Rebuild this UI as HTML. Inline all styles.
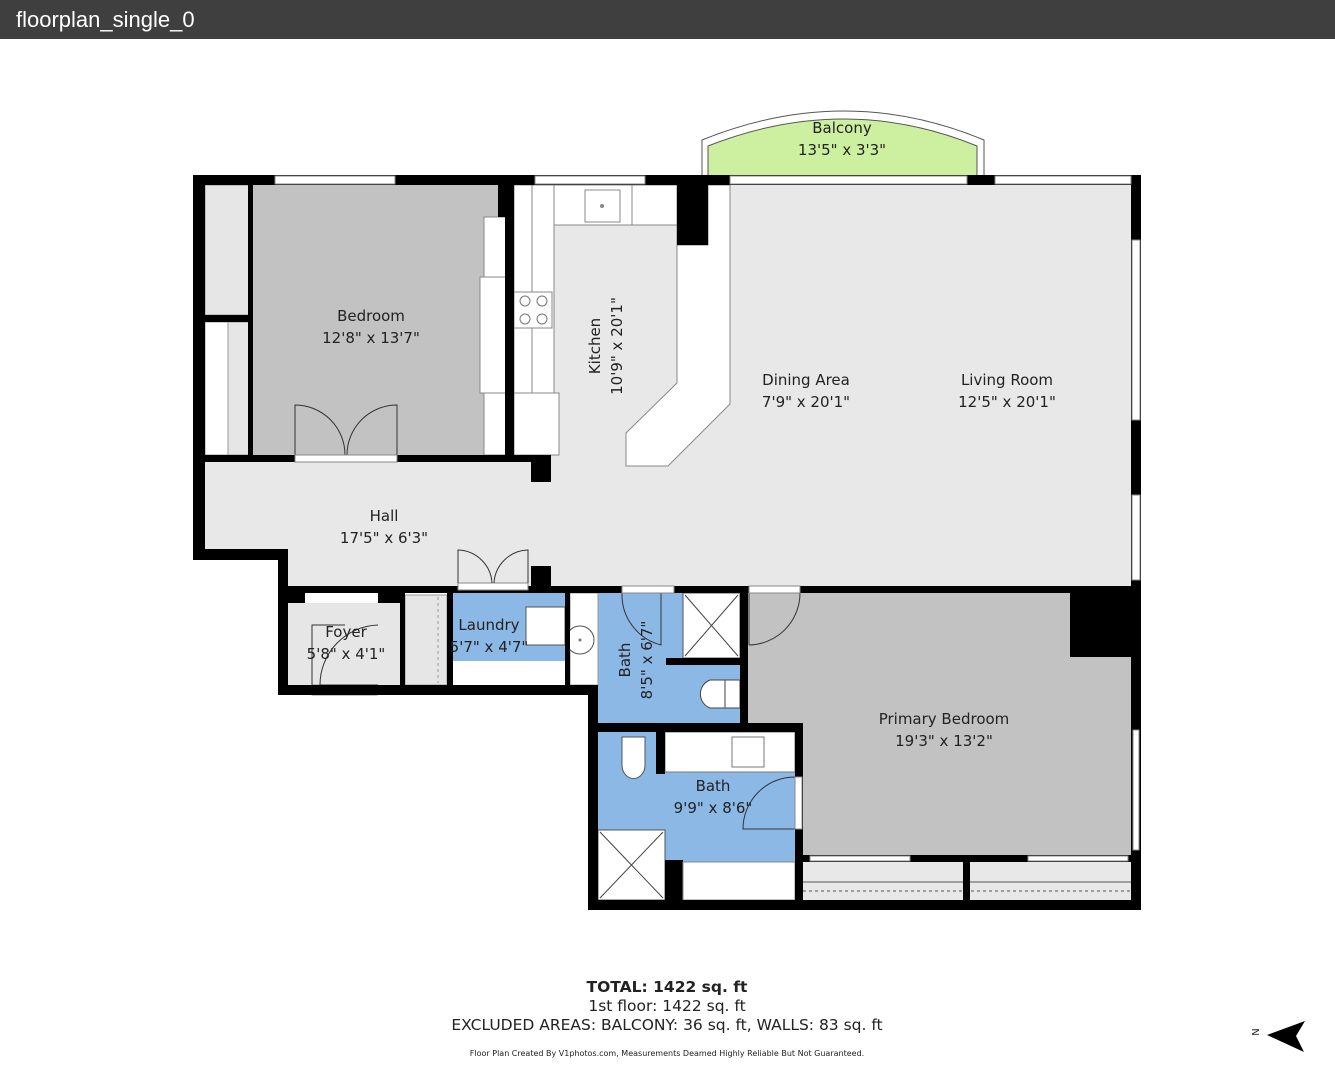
<!DOCTYPE html>
<html><head><meta charset="utf-8"><style>
html,body{margin:0;padding:0;background:#fff;width:1335px;height:1080px;overflow:hidden}
.hdr{position:absolute;left:0;top:0;width:1335px;height:39px;background:#3f3f3f;color:#fff;font:22px "Liberation Sans",sans-serif;line-height:39px;padding-left:16px;box-sizing:border-box}
svg{position:absolute;left:0;top:0}
text{font-family:"DejaVu Sans","Liberation Sans",sans-serif;fill:#222}
</style></head><body>
<div class="hdr">floorplan_single_0</div>
<svg width="1335" height="1080" viewBox="0 0 1335 1080">
<path d="M702,176 L702,140 Q845,82 984,140 L984,176 Z" fill="#fff" stroke="#555" stroke-width="1"/>
<path d="M708,176 L708,146 Q845,92 977,146 L977,176 Z" fill="#cdf0a0" stroke="#555" stroke-width="1"/>
<path d="M204,184 L1132,184 L1132,586 L288,586 L288,560 L204,560 Z" fill="#e8e8e8"/>
<rect x="253" y="185" width="245" height="270" fill="#c2c2c2"/>
<rect x="205" y="185" width="44" height="130" fill="#e6e6e6" stroke="#999" stroke-width="1"/>
<rect x="205" y="322" width="44" height="133" fill="#fff" stroke="#999" stroke-width="1"/>
<rect x="228" y="322" width="21" height="133" fill="#e6e6e6" stroke="#999" stroke-width="1"/>
<rect x="484" y="217" width="22" height="238" fill="#fff" stroke="#888"/>
<rect x="480" y="277" width="26" height="116" fill="#fff" stroke="#888"/>
<rect x="498" y="185" width="8" height="32" fill="#000"/>
<rect x="514" y="185" width="164" height="40" fill="#fff" stroke="#888"/>
<rect x="514" y="185" width="40" height="270" fill="#fff" stroke="#888"/>
<rect x="532" y="185" width="22" height="210" fill="#fff" stroke="#888"/>
<rect x="514" y="393" width="45" height="62" fill="#fff" stroke="#888"/>
<rect x="632" y="185" width="45" height="40" fill="#fff" stroke="#888"/>
<rect x="585" y="190" width="35" height="32" fill="#fff" stroke="#888"/>
<circle cx="602" cy="206" r="2" fill="#888"/>
<rect x="514" y="292" width="38" height="36" fill="#fff" stroke="#888"/>
<circle cx="525" cy="301" r="5" fill="none" stroke="#777"/><circle cx="542" cy="301" r="5" fill="none" stroke="#777"/>
<circle cx="525" cy="319" r="5" fill="none" stroke="#777"/><circle cx="542" cy="319" r="5" fill="none" stroke="#777"/>
<path d="M677,225 L677,383 L626,433 L626,466 L668,466 L730,404 L730,185 L708,185 L708,245 L677,245 Z" fill="#fff" stroke="#888"/>
<rect x="677" y="177" width="31" height="68" fill="#000"/>
<path d="M295,455 L295,405 A50,50 0 0 1 345,455" fill="none" stroke="#333"/>
<path d="M397,455 L397,405 A50,50 0 0 0 347,455" fill="none" stroke="#333"/>
<rect x="288" y="603" width="112" height="82" fill="#e6e6e6"/>
<rect x="305" y="586" width="73" height="17" fill="#fff"/>
<rect x="312" y="685" width="65" height="10" fill="#fff" stroke="#888"/>
<path d="M312,685 L312,625 L345,625" fill="none" stroke="#333"/>
<path d="M378,625 A60,60 0 0 0 320,685 M320,685 L378,685" fill="none" stroke="#333"/>
<rect x="405" y="595" width="42" height="90" fill="#e6e6e6" stroke="#999"/>
<line x1="438" y1="597" x2="438" y2="683" stroke="#999" stroke-dasharray="3,3"/>
<rect x="453" y="593" width="112" height="68" fill="#8cb8e6"/>
<rect x="453" y="661" width="112" height="24" fill="#fff"/>
<rect x="526" y="607" width="39" height="38" fill="#fff" stroke="#555"/>
<rect x="598" y="593" width="142" height="130" fill="#8cb8e6"/>
<rect x="570" y="593" width="28" height="92" fill="#fff" stroke="#999"/>
<circle cx="580" cy="640" r="14" fill="#fff" stroke="#555"/>
<circle cx="580" cy="640" r="1.5" fill="#777"/>
<rect x="683" y="593" width="57" height="65" fill="#fff" stroke="#555"/>
<path d="M685,595 L738,656 M738,595 L685,656" stroke="#444"/>
<rect x="666" y="658" width="74" height="7" fill="#000"/>
<path d="M725,680 L710,680 A15,15 0 0 0 710,708 L725,708 Z" fill="#fff" stroke="#444"/>
<rect x="725" y="680" width="15" height="28" fill="#fff" stroke="#444"/>
<path d="M622,593 A52,52 0 0 0 661,645 L661,593" fill="none" stroke="#333"/>
<rect x="598" y="732" width="197" height="130" fill="#8cb8e6"/>
<rect x="665" y="732" width="130" height="40" fill="#fff" stroke="#777"/>
<rect x="732" y="737" width="32" height="30" fill="#fff" stroke="#777"/>
<rect x="656" y="732" width="9" height="42" fill="#000"/>
<path d="M622,737 L645,737 L645,765 A11,13 0 0 1 622,765 Z" fill="#fff" stroke="#555"/>
<rect x="598" y="830" width="67" height="70" fill="#fff" stroke="#555"/>
<path d="M600,832 L663,898 M663,832 L600,898" stroke="#444"/>
<rect x="665" y="860" width="18" height="40" fill="#000"/>
<rect x="683" y="862" width="112" height="38" fill="#fff" stroke="#888"/>
<path d="M795,777 A52,52 0 0 0 743,829 L795,829" fill="none" stroke="#333"/>
<path d="M746,593 L1131,593 L1131,857 L802,857 L802,723 L746,723 Z" fill="#c2c2c2"/>
<rect x="1070" y="593" width="62" height="64" fill="#000"/>
<path d="M749,645 L749,593 L800,593 A52,52 0 0 1 749,645" fill="none" stroke="#333"/>
<rect x="803" y="862" width="328" height="38" fill="#e8e8e8"/>
<line x1="803" y1="882" x2="1131" y2="882" stroke="#555"/>
<line x1="803" y1="891" x2="1131" y2="891" stroke="#555" stroke-dasharray="3,3"/>
<g fill="#000">
<rect x="193" y="175" width="12" height="385"/>
<rect x="193" y="175" width="948" height="10"/>
<rect x="1131" y="175" width="10" height="735"/>
<rect x="193" y="549" width="95" height="11"/>
<rect x="278" y="549" width="10" height="146"/>
<rect x="278" y="685" width="320" height="10"/>
<rect x="588" y="685" width="10" height="225"/>
<rect x="588" y="900" width="553" height="10"/>
<rect x="288" y="586" width="853" height="7"/>
<rect x="288" y="586" width="17" height="17"/>
<rect x="378" y="586" width="27" height="17"/>
<rect x="400" y="593" width="5" height="92"/>
<rect x="447" y="593" width="6" height="92"/>
<rect x="565" y="593" width="5" height="92"/>
<rect x="740" y="593" width="8" height="137"/>
<rect x="598" y="723" width="205" height="9"/>
<rect x="795" y="723" width="8" height="187"/>
<rect x="205" y="455" width="346" height="7"/>
<rect x="531" y="455" width="20" height="27"/>
<rect x="531" y="566" width="20" height="20"/>
<rect x="505" y="185" width="9" height="277"/>
<rect x="205" y="315" width="48" height="7"/>
<rect x="248" y="185" width="5" height="270"/>
<rect x="963" y="857" width="7" height="45"/>
<rect x="800" y="855" width="331" height="7"/>
</g>
<rect x="295" y="455" width="102" height="7" fill="#fff" stroke="#888"/>
<rect x="458" y="583" width="70" height="7" fill="#fff" stroke="#888"/>
<path d="M458,583 L458,550 A35,35 0 0 1 492,583 M528,583 L528,550 A35,35 0 0 0 494,583" fill="none" stroke="#333"/>
<rect x="622" y="586" width="52" height="7" fill="#fff" stroke="#888"/>
<rect x="749" y="586" width="51" height="7" fill="#fff" stroke="#888"/>
<g fill="#fff" stroke="#888">
<rect x="275" y="176" width="120" height="8"/><rect x="535" y="176" width="110" height="8"/>
<rect x="730" y="176" width="237" height="8"/><rect x="995" y="176" width="136" height="8"/>
<rect x="1132" y="240" width="8" height="180"/><rect x="1132" y="495" width="8" height="85"/>
<rect x="1133" y="730" width="6" height="120"/>
<rect x="810" y="856" width="100" height="5"/><rect x="1028" y="856" width="100" height="5"/>
<rect x="795" y="777" width="7" height="52"/>
</g>
<g font-size="15" text-anchor="middle">
<text x="842" y="133">Balcony</text><text x="842" y="155">13'5" x 3'3"</text>
<text x="371" y="321">Bedroom</text><text x="371" y="343">12'8" x 13'7"</text>
<text x="806" y="385">Dining Area</text><text x="806" y="407">7'9" x 20'1"</text>
<text x="1007" y="385">Living Room</text><text x="1007" y="407">12'5" x 20'1"</text>
<text x="384" y="521">Hall</text><text x="384" y="543">17'5" x 6'3"</text>
<text x="346" y="637">Foyer</text><text x="346" y="659">5'8" x 4'1"</text>
<text x="489" y="630">Laundry</text><text x="489" y="652">5'7" x 4'7"</text>
<text x="944" y="724">Primary Bedroom</text><text x="944" y="746">19'3" x 13'2"</text>
<text x="713" y="791">Bath</text><text x="713" y="813">9'9" x 8'6"</text>
<text transform="translate(600,346) rotate(-90)">Kitchen</text>
<text transform="translate(622,346) rotate(-90)">10'9" x 20'1"</text>
<text transform="translate(630,660) rotate(-90)">Bath</text>
<text transform="translate(652,660) rotate(-90)">8'5" x 6'7"</text>
</g>
<g text-anchor="middle">
<text x="667" y="992" font-size="15.5" font-weight="bold">TOTAL: 1422 sq. ft</text>
<text x="667" y="1011" font-size="15.5">1st floor: 1422 sq. ft</text>
<text x="667" y="1030" font-size="15.5">EXCLUDED AREAS: BALCONY: 36 sq. ft, WALLS: 83 sq. ft</text>
<text x="667" y="1056" font-size="8">Floor Plan Created By V1photos.com, Measurements Deamed Highly Reliable But Not Guaranteed.</text>
</g>
<path d="M1267,1035 L1305,1021 L1296,1036 L1304,1052 Z" fill="#000"/>
<text x="1256" y="1035" font-size="10" text-anchor="middle" transform="rotate(-90 1256 1032)">N</text>
</svg>
</body></html>
